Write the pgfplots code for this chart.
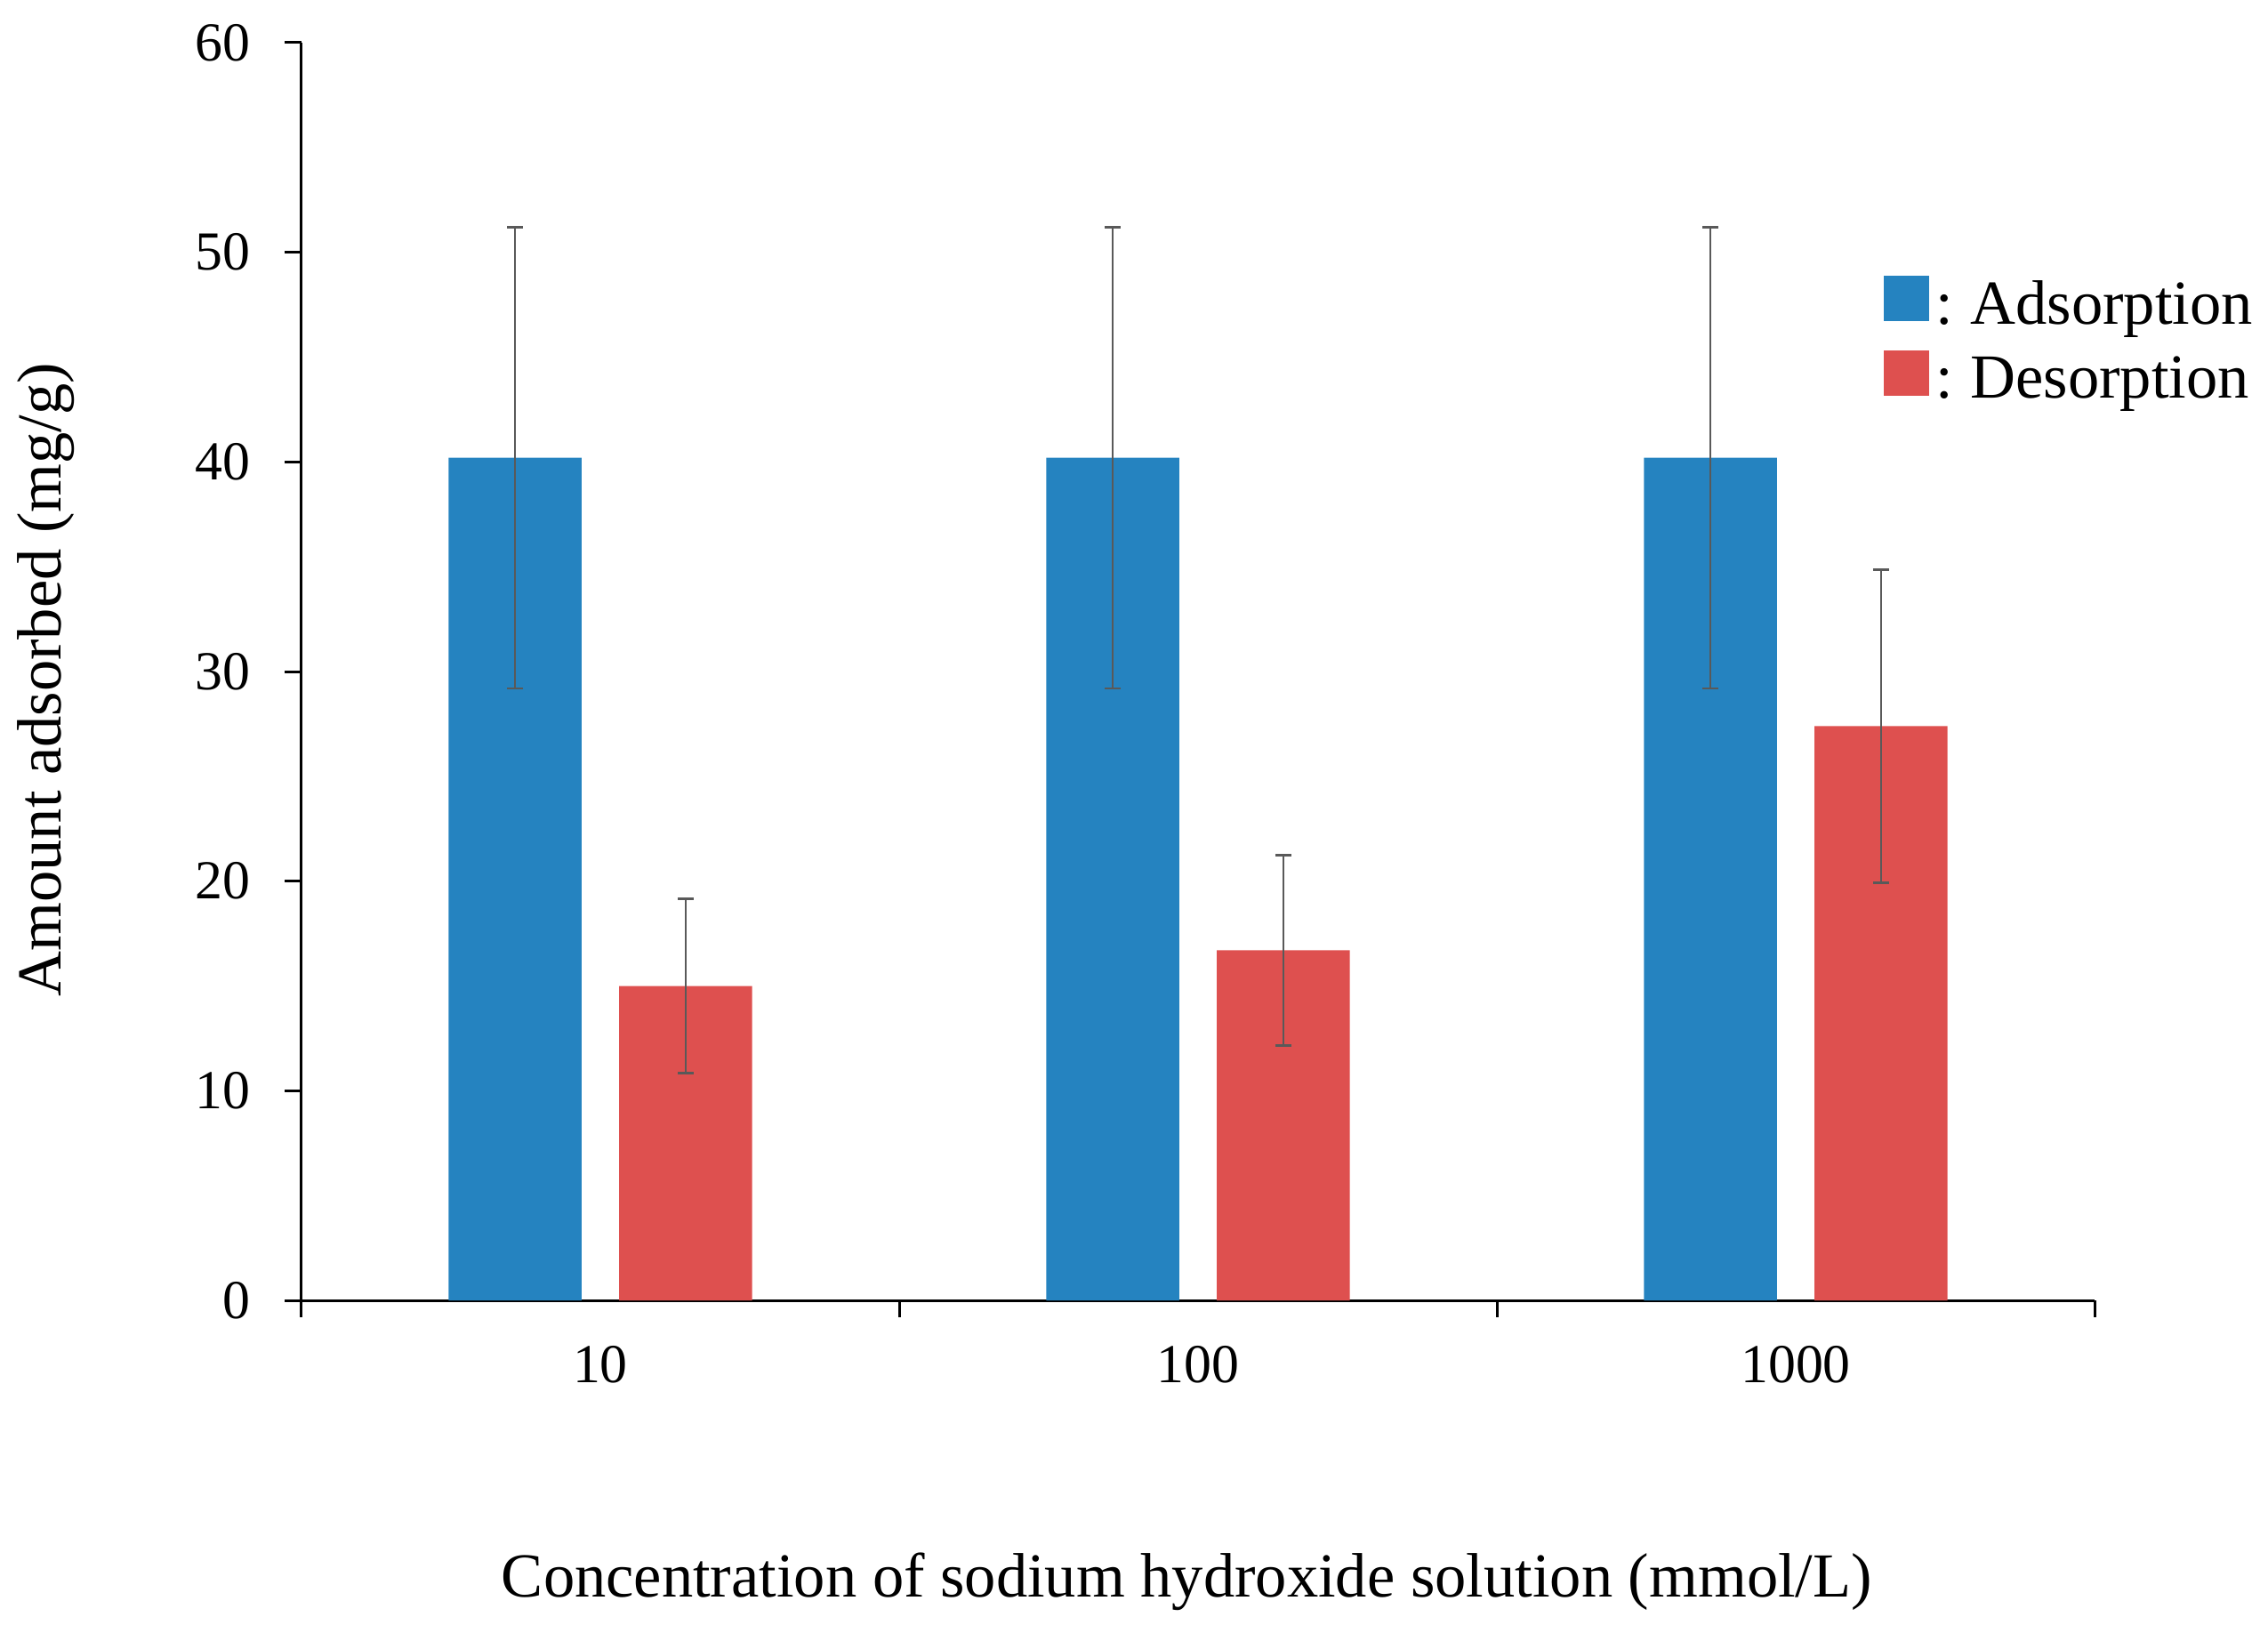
\documentclass[border=0pt]{standalone}
\usepackage{fontspec}
\setmainfont{Liberation Serif}
\usepackage{pgfplots}
\pgfplotsset{compat=1.18}
\definecolor{adsblue}{RGB}{37,131,192}
\definecolor{desred}{RGB}{222,80,79}
\definecolor{errgray}{RGB}{89,89,89}
\begin{document}
\begin{tikzpicture}
\begin{axis}[
  name=ax,
  scale only axis,
  width=336pt, height=235.67pt,
  xmin=0.5, xmax=3.5, ymin=0, ymax=60,
  axis x line*=bottom, axis y line*=left,
  x axis line style={-, line width=0.5pt},
  y axis line style={-, line width=0.5pt},
  tick align=outside,
  xtick={0.5,1.5,2.5,3.5}, xticklabels={},
  extra x ticks={1,2,3}, extra x tick labels={10,100,1000},
  extra x tick style={major tick length=0pt, tick style={draw=none}},
  major tick length=3.1pt,
  ytick={0,10,20,30,40,50,60},
  tick style={black, line width=0.5pt},
  /pgf/number format/assume math mode=true,
  tick label style={font=\fontsize{10.3}{12}\selectfont, inner sep=0pt},
  yticklabel style={anchor=east, xshift=-6.3pt},
  xticklabel style={anchor=north, yshift=-8.33pt},
  ybar, bar width=0.2225,
  every axis x label/.style={at={(axis description cs:0.4938,-0.2001)}, anchor=north, inner sep=0pt, font=\fontsize{11.75}{14}\selectfont},
  every axis y label/.style={at={(axis description cs:-0.126,0.4936)}, anchor=south, rotate=90, inner sep=0pt, font=\fontsize{11.75}{14}\selectfont},
  xlabel={Concentration of sodium hydroxide solution (mmol/L)},
  ylabel={Amount adsorbed (mg/g)},
  legend style={draw=none, fill=none, at={(rel axis cs:0.8824,0.8147)}, anchor=north west,
    inner sep=0pt, outer sep=0pt, row sep=3.5pt, font=\fontsize{11.75}{14}\selectfont,
    nodes={inner sep=0pt},
    /tikz/every even column/.append style={column sep=0pt}},
  legend cell align=left,
  legend image code/.code={\fill[#1] (0pt,-2.75pt) rectangle (8.5pt,5.75pt);},
  error bars/y dir=both, error bars/y explicit,
  error bars/error bar style={errgray, line width=0.45pt},
  error bars/error mark options={errgray, rotate=90, mark size=1.5pt, line width=0.45pt},
]
\addplot[fill=adsblue, draw=none, bar shift=-0.1427] coordinates {
  (1,40.2) +- (0,11.0)
  (2,40.2) +- (0,11.0)
  (3,40.2) +- (0,11.0)
};
\addlegendentry{\hspace{1.2pt}:\hspace{-0.6pt} Adsorption}
\addplot[fill=desred, draw=none, bar shift=0.1427] coordinates {
  (1,15.0) +- (0,4.15)
  (2,16.7) +- (0,4.55)
  (3,27.4) +- (0,7.47)
};
\addlegendentry{\hspace{1.2pt}:\hspace{-0.6pt} Desorption}
\end{axis}
\path ([shift={(-56.5pt,-60.83pt)}]ax.south west) rectangle ([shift={(32.5pt,8pt)}]ax.north east);
\end{tikzpicture}
\end{document}
